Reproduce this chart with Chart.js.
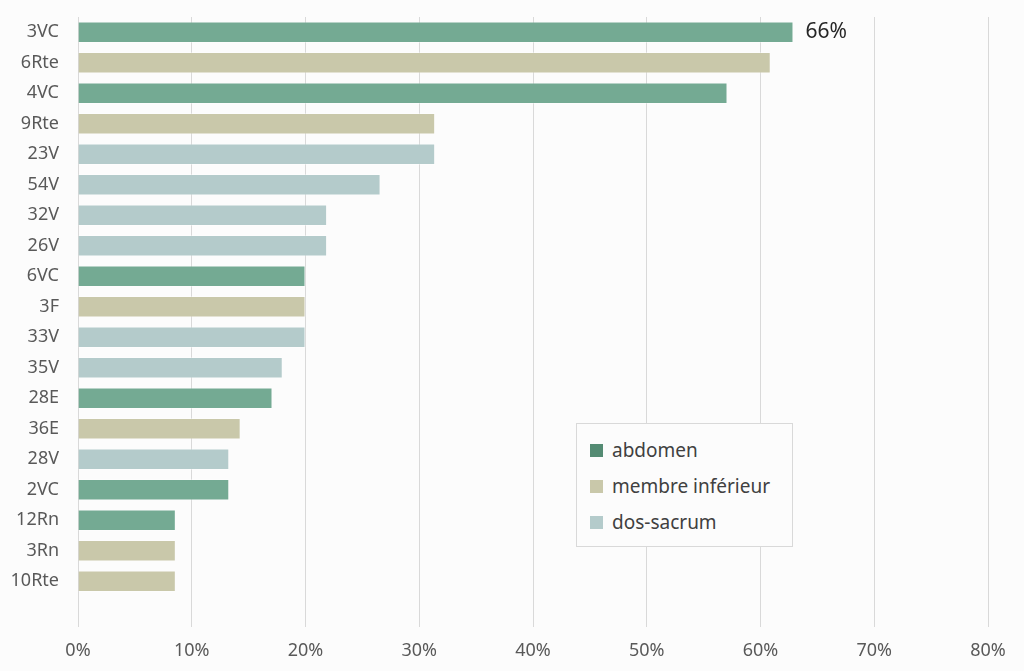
<!DOCTYPE html>
<html>
<head>
<meta charset="utf-8">
<script src="https://cdn.jsdelivr.net/npm/chart.js@4"></script>
<style>
  html, body { margin: 0; padding: 0; background: #fcfcfc; }
  #wrap { position: relative; width: 1024px; height: 671px; }
  #legend {
    position: absolute; left: 576px; top: 423px; width: 217px; height: 124px;
    border: 1px solid #d9d9d9; background: #fcfcfc; box-sizing: border-box;
    font-family: "Noto Sans", sans-serif; font-size: 19px; color: #404040;
    padding-top: 8px;
  }
  #legend div { height: 36px; display: flex; align-items: center; padding-left: 13px; white-space: nowrap; }
  #legend span.sw { width: 13px; height: 13px; display: inline-block; margin-right: 9px; }
</style>
</head>
<body>
<div id="wrap">
  <canvas id="chart" width="1024" height="671"></canvas>
  <div id="legend"></div>
</div>
<script>
const categories = ["3VC", "6Rte", "4VC", "9Rte", "23V", "54V", "32V", "26V", "6VC", "3F",
                    "33V", "35V", "28E", "36E", "28V", "2VC", "12Rn", "3Rn", "10Rte"];
const values = [62.9, 60.9, 57.1, 31.4, 31.4, 26.6, 21.9, 21.9, 20, 20,
                20, 18, 17.1, 14.3, 13.3, 13.3, 8.6, 8.6, 8.6];
const groups = ["abdomen", "membre inférieur", "abdomen", "membre inférieur", "dos-sacrum",
                "dos-sacrum", "dos-sacrum", "dos-sacrum", "abdomen", "membre inférieur",
                "dos-sacrum", "dos-sacrum", "abdomen", "membre inférieur", "dos-sacrum",
                "abdomen", "abdomen", "membre inférieur", "membre inférieur"];
const groupNames = ["abdomen", "membre inférieur", "dos-sacrum"];
const xTicks = [0, 10, 20, 30, 40, 50, 60, 70, 80];
const topLabel = "66%";

const barColors = { "abdomen": "#74aa93", "membre inférieur": "#c9c8aa", "dos-sacrum": "#b4cbcb" };
const legendColors = { "abdomen": "#548b73", "membre inférieur": "#c9c8aa", "dos-sacrum": "#b4cbcb" };

// legend box
const legend = document.getElementById("legend");
groupNames.forEach(g => {
  const row = document.createElement("div");
  row.innerHTML = '<span class="sw" style="background:' + legendColors[g] + '"></span>' + g;
  legend.appendChild(row);
});

// label at the end of the first bar
const endLabel = {
  id: "endLabel",
  afterDatasetsDraw(chart) {
    const bar = chart.getDatasetMeta(0).data[0];
    const ctx = chart.ctx;
    ctx.save();
    ctx.font = "21px 'Noto Sans', sans-serif";
    ctx.fillStyle = "#262626";
    ctx.textAlign = "left";
    ctx.textBaseline = "middle";
    ctx.fillText(topLabel, bar.x + 12, bar.y);
    ctx.restore();
  }
};

Chart.defaults.font.family = "'Noto Sans', sans-serif";

const chart = new Chart(document.getElementById("chart"), {
  type: "bar",
  data: {
    labels: [...categories, ""],
    datasets: [{
      data: values,
      backgroundColor: groups.map(g => barColors[g]),
      borderColor: "rgba(255,255,255,0.35)",
      borderWidth: 1,
      categoryPercentage: 1,
      barPercentage: 0.71
    }]
  },
  options: {
    indexAxis: "y",
    responsive: false,
    animation: false,
    layout: { padding: { top: 17, right: 36, left: 0, bottom: 0 } },
    plugins: { legend: { display: false }, tooltip: { enabled: false } },
    scales: {
      x: {
        min: 0,
        max: 80,
        afterBuildTicks(scale) { scale.ticks = xTicks.map(v => ({ value: v })); },
        afterFit(scale) { scale.height = 44; },
        grid: { color: "#d9d9d9", lineWidth: 1, drawTicks: false },
        border: { display: false },
        ticks: {
          color: "#595959",
          font: { size: 18 },
          padding: 13,
          callback: v => v + "%"
        }
      },
      y: {
        afterFit(scale) { scale.width = 78; scale.paddingTop = 0; scale.paddingBottom = 0; },
        grid: { display: false },
        border: { display: false },
        ticks: { color: "#595959", font: { size: 18 }, padding: 11 }
      }
    }
  },
  plugins: [endLabel]
});
</script>
</body>
</html>
